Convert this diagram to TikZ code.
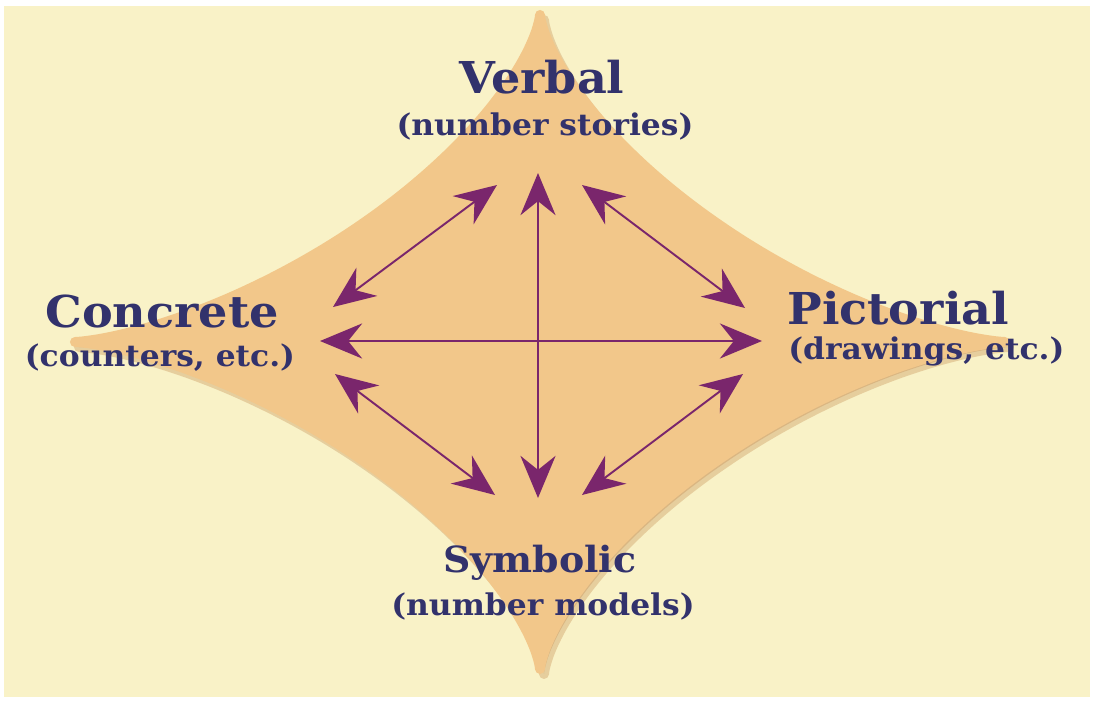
\documentclass[tikz,border=0pt]{standalone}
\usepackage{fontspec}
\setmainfont{DejaVu Serif}[FakeStretch=1.05]
\usetikzlibrary{arrows.meta}

\definecolor{paper}{RGB}{249,242,199}
\definecolor{starfill}{RGB}{242,199,138}
\definecolor{starshade}{RGB}{196,140,80}
\definecolor{ink}{RGB}{50,50,108}
\definecolor{plum}{RGB}{122,38,108}

\begin{document}
\begin{tikzpicture}[
    x=0.02cm, y=-0.02cm,
    title/.style={font=\bfseries\fontsize{25}{28}\selectfont, text=ink, inner sep=0pt},
    note/.style={font=\bfseries\fontsize{17}{20}\selectfont, text=ink, inner sep=0pt},
    star/.style={line width=0.2cm, line join=round},
    link/.style={draw=plum, line width=1.1pt, {Stealth[length=24pt, width=20pt, inset=8pt]}-{Stealth[length=24pt, width=20pt, inset=8pt]}}
]

% Page and background
\useasboundingbox (0,0) rectangle (1095,703);
\fill[white] (0,0) rectangle (1095,703);
\fill[paper] (4,6) rectangle (1090,697);

% Star (superellipse with blunt tips)
\filldraw[star, fill=starshade, draw=starshade, opacity=0.35] plot[domain=0.5:360.5, samples=240, smooth]
    ({544+465*cos(\x)*(abs(cos(\x))+0.0001)^1.857}, {347+327*sin(\x)*(abs(sin(\x))+0.0001)^1.857}) -- cycle;
\filldraw[star, fill=starfill, draw=starfill] plot[domain=0.5:360.5, samples=240, smooth]
    ({540+465*cos(\x)*(abs(cos(\x))+0.0001)^1.857}, {342+327*sin(\x)*(abs(sin(\x))+0.0001)^1.857}) -- cycle;

% Labels
\node[title] (verbal) at (542,77) {Verbal};
\node[note] (verbal-sub) at (545,126) {(number stories)};
\node[title] (concrete) at (162,312) {Concrete};
\node[note] (concrete-sub) at (160,358) {(counters, etc.)};
\node[title, anchor=west] (pictorial) at (787,308) {Pictorial};
\node[note, anchor=west] (pictorial-sub) at (788,351) {(drawings, etc.)};
\node[title, font=\bfseries\fontsize{20.5}{24}\selectfont] (symbolic) at (540,563) {Symbolic};
\node[note] (symbolic-sub) at (543,606) {(number models)};

% Arrow ends
\coordinate (V-1) at (497,185);
\coordinate (V-2) at (538,173);
\coordinate (V-3) at (582,185);
\coordinate (S-1) at (495,495);
\coordinate (S-2) at (538,498);
\coordinate (S-3) at (582,495);
\coordinate (C-1) at (333,307);
\coordinate (C-2) at (320,341);
\coordinate (C-3) at (335,374);
\coordinate (P-1) at (745,308);
\coordinate (P-2) at (762,341);
\coordinate (P-3) at (743,374);

% Connections
\foreach \a/\b in {V-1/C-1, V-2/S-2, V-3/P-1, C-2/P-2, C-3/S-1, P-3/S-3} {
    \draw[link] (\a) -- (\b);
}

\end{tikzpicture}
\end{document}
